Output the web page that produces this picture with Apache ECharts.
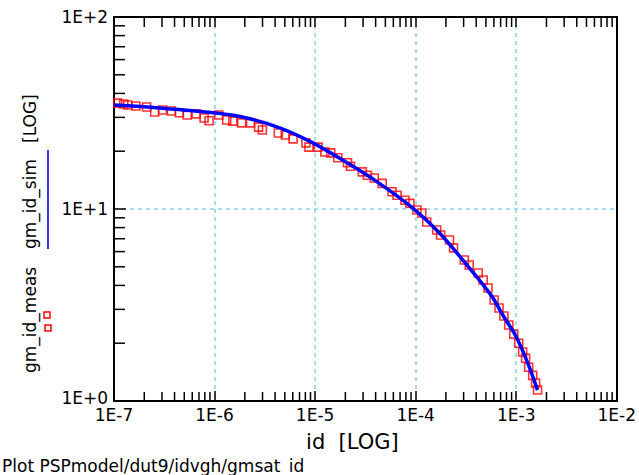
<!DOCTYPE html>
<html>
<head>
<meta charset="utf-8">
<script src="https://cdn.jsdelivr.net/npm/echarts@6/dist/echarts.min.js"></script>
<style>
html,body{margin:0;padding:0;background:#fff;}
#chart{width:639px;height:475px;}
</style>
</head>
<body>
<div id="chart"></div>
<script>
// ---- data ----
const xTickLabels = ['1E-7','1E-6','1E-5','1E-4','1E-3','1E-2'];
const yTickLabels = ['1E+0','1E+1','1E+2'];
const xMinorMultipliers = [2,3,4,5,6,7,8,9];

// measured gm/id (red squares)
const measId = [1.09e-7,1.25e-7,1.37e-7,1.65e-7,2.11e-7,2.54e-7,3.04e-7,3.72e-7,4.47e-7,5.35e-7,
  6.56e-7,7.87e-7,8.81e-7,1.10e-6,1.32e-6,1.52e-6,1.86e-6,2.28e-6,2.74e-6,2.99e-6,
  4.31e-6,5.05e-6,6.04e-6,8.11e-6,8.69e-6,1.07e-5,1.25e-5,1.43e-5,1.68e-5,2.10e-5,
  2.25e-5,2.95e-5,3.31e-5,3.88e-5,4.65e-5,5.83e-5,6.53e-5,7.83e-5,8.77e-5,1.03e-4,
  1.15e-4,1.29e-4,1.62e-4,1.77e-4,2.17e-4,2.38e-4,3.05e-4,3.41e-4,4.19e-4,4.69e-4,
  5.25e-4,6.03e-4,6.75e-4,7.55e-4,8.45e-4,9.46e-4,1.06e-3,1.16e-3,1.24e-3,1.33e-3,
  1.46e-3,1.56e-3,1.63e-3];
const measGm = [35.6,35.2,34.8,34.4,34.0,32.0,32.8,32.4,31.7,30.9,
  31.3,29.8,28.8,30.9,29.1,28.7,28.1,28.1,26.7,25.8,
  24.9,24.3,23.2,22.1,21.0,21.0,19.8,19.6,18.5,17.4,
  16.7,15.6,15.0,14.5,13.6,12.3,11.8,11.1,10.7,9.88,
  9.53,8.55,7.78,7.32,6.90,6.27,5.42,5.11,4.64,4.27,
  3.88,3.36,3.05,2.77,2.49,2.23,2.00,1.80,1.67,1.50,
  1.36,1.24,1.14];

// simulated gm/id (blue line)
const simId = [1.0e-7,2.84e-7,1.03e-6,2.08e-6,4.51e-6,9.5e-6,2.01e-5,4.35e-5,9.18e-5,1.69e-4,3.05e-4,5.62e-4,7.55e-4,9.91e-4,1.30e-3,1.63e-3];
const simGm = [34.8,33.6,31.6,29.8,26.4,22.1,17.6,13.6,10.2,7.59,5.30,3.56,2.74,2.18,1.58,1.14];

// ---- build chart ----
const FONT = 'DejaVu Sans';
const xMin = 1e-7, xMax = 1e-2, yMin = 1, yMax = 100;

function decades(a, b) { const r = []; for (let e = Math.round(Math.log10(a)); e < Math.round(Math.log10(b)); e++) r.push(Math.pow(10, e)); return r; }
const minorTicks = [];
decades(xMin, xMax).forEach(d => xMinorMultipliers.forEach(m => { minorTicks.push([d*m, yMin, 'b']); minorTicks.push([d*m, yMax, 't']); }));
decades(yMin, yMax).forEach(d => xMinorMultipliers.forEach(m => { minorTicks.push([xMin, d*m, 'l']); }));

const chart = echarts.init(document.getElementById('chart'), null, {renderer: 'svg'});
const axisLineStyle = {color: '#000', width: 2};
const splitStyle = {color: '#87cefa', width: 1.5, type: [4, 4]};

chart.setOption({
  animation: false,
  backgroundColor: '#fff',
  grid: {left: 114, right: 17, top: 17, bottom: 74, containLabel: false},
  xAxis: [{
    type: 'log', logBase: 10, min: xMin, max: xMax, splitNumber: 5, position: 'bottom',
    axisLine: {show: true, onZero: false, lineStyle: axisLineStyle},
    axisTick: {show: true, inside: true, length: 10, lineStyle: {color: '#000', width: 1.5}},
    axisLabel: {show: true, margin: 7, color: '#000', fontFamily: FONT, fontSize: 17, lineHeight: 14,
      formatter: v => xTickLabels[Math.round(Math.log10(v)) + 7]},
    splitLine: {show: true, lineStyle: splitStyle},
    name: 'id  [LOG]', nameLocation: 'middle', nameGap: 30,
    nameTextStyle: {color: '#000', fontFamily: FONT, fontSize: 21, padding: [0, 26, 0, 0]}
  }, {
    type: 'log', logBase: 10, min: xMin, max: xMax, splitNumber: 5, position: 'top',
    axisLine: {show: true, onZero: false, lineStyle: axisLineStyle},
    axisTick: {show: true, inside: true, length: 10, lineStyle: {color: '#000', width: 1.5}},
    axisLabel: {show: false}, splitLine: {show: false}
  }],
  yAxis: [{
    type: 'log', logBase: 10, min: yMin, max: yMax, splitNumber: 2, position: 'left',
    axisLine: {show: true, onZero: false, lineStyle: axisLineStyle},
    axisTick: {show: true, inside: true, length: 12, lineStyle: {color: '#000', width: 1.5}},
    axisLabel: {show: true, margin: 6, color: '#000', fontFamily: FONT, fontSize: 17, lineHeight: 12,
      formatter: v => {
        const i = Math.round(Math.log10(v));
        return i === 0 ? '{lo|' + yTickLabels[i] + '}' : yTickLabels[i];
      },
      rich: {lo: {fontFamily: FONT, fontSize: 17, color: '#000', lineHeight: 12, padding: [0, 0, 6, 0]}}},
    splitLine: {show: true, lineStyle: splitStyle}
  }, {
    type: 'log', logBase: 10, min: yMin, max: yMax, splitNumber: 2, position: 'right',
    axisLine: {show: true, onZero: false, lineStyle: axisLineStyle},
    axisTick: {show: false}, axisLabel: {show: false}, splitLine: {show: false}
  }],
  series: [{
    name: 'gm_id_meas', type: 'scatter', xAxisIndex: 0, yAxisIndex: 0,
    data: measId.map((x, i) => [x, measGm[i]]),
    symbol: 'rect', symbolSize: 8,
    itemStyle: {color: 'rgba(0,0,0,0)', borderColor: '#ff0000', borderWidth: 1.6},
    z: 3
  }, {
    name: 'gm_id_sim', type: 'line', xAxisIndex: 0, yAxisIndex: 0,
    data: simId.map((x, i) => [x, simGm[i]]),
    showSymbol: false, smooth: 0.35,
    lineStyle: {color: '#0000ff', width: 3.5},
    z: 4
  }, {
    type: 'custom', xAxisIndex: 0, yAxisIndex: 0, silent: true, clip: false, z: 5,
    data: minorTicks,
    encode: {x: 0, y: 1},
    renderItem: (params, api) => {
      const kind = minorTicks[params.dataIndex][2];
      const p = api.coord([api.value(0), api.value(1)]);
      let shape;
      if (kind === 'b') shape = {x1: p[0], y1: p[1], x2: p[0], y2: p[1] - 9};
      else if (kind === 't') shape = {x1: p[0], y1: p[1], x2: p[0], y2: p[1] + 10};
      else shape = {x1: p[0], y1: p[1], x2: p[0] + 11, y2: p[1]};
      return {type: 'line', shape: shape, style: {stroke: '#000', lineWidth: 1.5}};
    }
  }],
  graphic: [
    {type: 'text', x: 30, y: 373, rotation: Math.PI / 2,
      style: {text: 'gm_id_meas', font: '17px "DejaVu Sans"', fill: '#000', textAlign: 'left', textVerticalAlign: 'middle'}},
    {type: 'rect', shape: {x: 44, y: 312, width: 6, height: 6}, style: {fill: 'none', stroke: '#ff0000', lineWidth: 1.5}},
    {type: 'rect', shape: {x: 45, y: 325, width: 6, height: 6}, style: {fill: 'none', stroke: '#ff0000', lineWidth: 1.5}},
    {type: 'text', x: 30, y: 249, rotation: Math.PI / 2,
      style: {text: 'gm_id_sim', font: '17px "DejaVu Sans"', fill: '#000', textAlign: 'left', textVerticalAlign: 'middle'}},
    {type: 'line', shape: {x1: 48, y1: 150, x2: 48, y2: 249}, style: {stroke: '#3333ff', lineWidth: 2}},
    {type: 'text', x: 30, y: 143, rotation: Math.PI / 2,
      style: {text: '[LOG]', font: '17px "DejaVu Sans"', fill: '#000', textAlign: 'left', textVerticalAlign: 'middle'}},
    {type: 'text', x: 2, y: 466,
      style: {text: 'Plot PSPmodel/dut9/idvgh/gmsat_id', font: '17px "DejaVu Sans"', fill: '#000', textAlign: 'left', textVerticalAlign: 'middle'}}
  ]
});
</script>
</body>
</html>
